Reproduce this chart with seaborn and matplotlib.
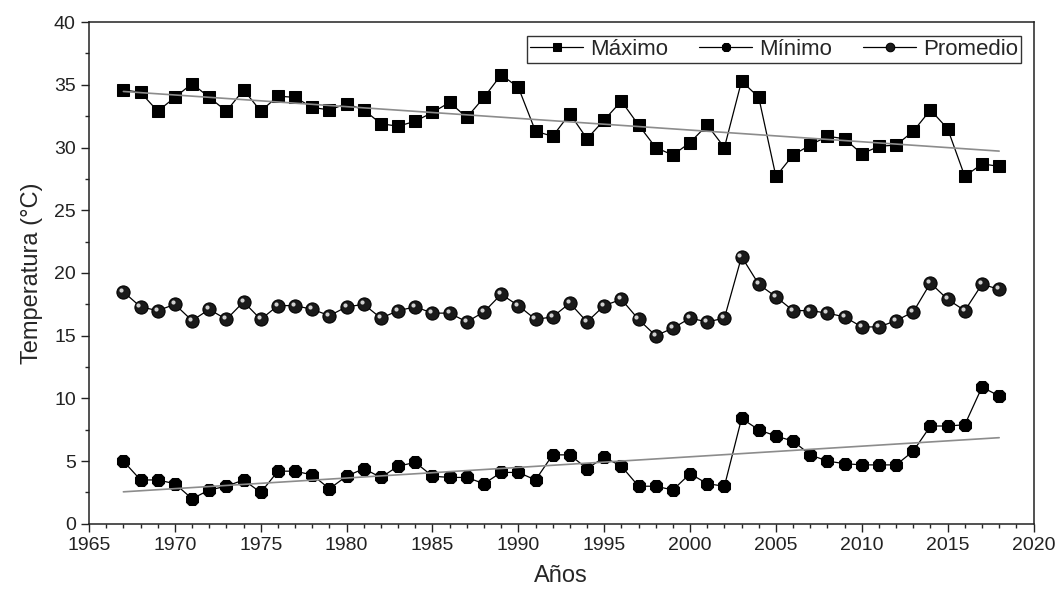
import numpy as np
import pandas as pd
import matplotlib
matplotlib.use("Agg")
import matplotlib.pyplot as plt
import matplotlib.transforms as mtransforms
from matplotlib.ticker import MultipleLocator
import seaborn as sns

# Datos
anios = list(range(1967, 2019))

maximo = [34.6, 34.4, 32.9, 34.0, 35.1, 34.0, 32.9, 34.6, 32.9, 34.1,
          34.0, 33.2, 33.0, 33.5, 33.0, 31.9, 31.7, 32.1, 32.8, 33.6,
          32.4, 34.0, 35.8, 34.8, 31.3, 30.9, 32.7, 30.7, 32.2, 33.7,
          31.8, 30.0, 29.4, 30.4, 31.8, 30.0, 35.3, 34.0, 27.7, 29.4,
          30.2, 30.9, 30.7, 29.5, 30.1, 30.2, 31.3, 33.0, 31.5, 27.7,
          28.7, 28.5]

minimo = [5.0, 3.5, 3.5, 3.2, 2.0, 2.7, 3.0, 3.5, 2.5, 4.2,
          4.2, 3.9, 2.8, 3.8, 4.4, 3.7, 4.6, 4.9, 3.8, 3.7,
          3.7, 3.2, 4.1, 4.1, 3.5, 5.5, 5.5, 4.4, 5.3, 4.6,
          3.0, 3.0, 2.7, 4.0, 3.2, 3.0, 8.4, 7.5, 7.0, 6.6,
          5.5, 5.0, 4.8, 4.7, 4.7, 4.7, 5.8, 7.8, 7.8, 7.9,
          10.9, 10.2]

promedio = [18.5, 17.3, 17.0, 17.5, 16.2, 17.1, 16.3, 17.7, 16.3, 17.4,
            17.4, 17.1, 16.6, 17.3, 17.5, 16.4, 17.0, 17.3, 16.8, 16.8,
            16.1, 16.9, 18.3, 17.4, 16.3, 16.5, 17.6, 16.1, 17.4, 17.9,
            16.3, 15.0, 15.6, 16.4, 16.1, 16.4, 21.3, 19.1, 18.1, 17.0,
            17.0, 16.8, 16.5, 15.7, 15.7, 16.2, 16.9, 19.2, 17.9, 17.0,
            19.1, 18.7]

df = pd.DataFrame({"ANIO": anios, "MAXIMO": maximo,
                   "MINIMO": minimo, "PROMEDIO": promedio})

sns.set_style("ticks")
plt.rcParams["font.family"] = ["Liberation Sans", "DejaVu Sans"]

fig = plt.figure(figsize=(10.6, 5.98), dpi=100)
ax = fig.add_axes([0.084, 0.124, 0.891, 0.839])

# Series con marcadores
sns.lineplot(data=df, x="ANIO", y="MAXIMO", ax=ax, color="black", lw=0.9,
             marker="s", markersize=9, markeredgecolor="black",
             label="Máximo")
sns.lineplot(data=df, x="ANIO", y="MINIMO", ax=ax, color="black", lw=0.9,
             marker="8", markersize=10, markeredgecolor="black",
             label="Mínimo")
sns.lineplot(data=df, x="ANIO", y="PROMEDIO", ax=ax, color="black", lw=0.9,
             marker="o", markersize=9.5, markerfacecolor="#1a1a1a",
             markeredgecolor="black", label="Promedio")

# Brillo en los marcadores de Promedio
brillo = mtransforms.offset_copy(ax.transData, fig=fig, x=-1.5, y=1.5,
                                 units="points")
ax.plot(df["ANIO"], df["PROMEDIO"], ls="none", marker="o", markersize=3,
        markerfacecolor="#d0d0d0", markeredgewidth=0, transform=brillo)

# Líneas de tendencia
sns.regplot(data=df, x="ANIO", y="MAXIMO", ax=ax, scatter=False, ci=None,
            line_kws={"color": "#8c8c8c", "lw": 1.2})
sns.regplot(data=df, x="ANIO", y="MINIMO", ax=ax, scatter=False, ci=None,
            line_kws={"color": "#8c8c8c", "lw": 1.2})

ax.set_xlim(1965, 2020)
ax.set_ylim(0, 40)
ax.xaxis.set_major_locator(MultipleLocator(5))
ax.xaxis.set_minor_locator(MultipleLocator(1))
ax.yaxis.set_major_locator(MultipleLocator(5))
ax.yaxis.set_minor_locator(MultipleLocator(2.5))
ax.tick_params(which="major", direction="out", length=6, width=1,
               labelsize=14, colors="#222222")
ax.tick_params(which="minor", direction="out", length=3, width=1)
for s in ax.spines.values():
    s.set_linewidth(1.1)
    s.set_color("#222222")

ax.set_xlabel("Años", fontsize=17, labelpad=8)
ax.set_ylabel("Temperatura (°C)", fontsize=17, labelpad=8)

# Leyenda en la parte superior
ax.legend(loc="upper right", ncol=3, fontsize=16, frameon=True,
          fancybox=False, edgecolor="black", borderpad=0.15,
          markerscale=0.65, handlelength=2.4, handletextpad=0.3,
          columnspacing=1.4, bbox_to_anchor=(0.999, 0.995))
ax.get_legend().get_frame().set_linewidth(1.0)

fig.savefig("out.png", dpi=100)
